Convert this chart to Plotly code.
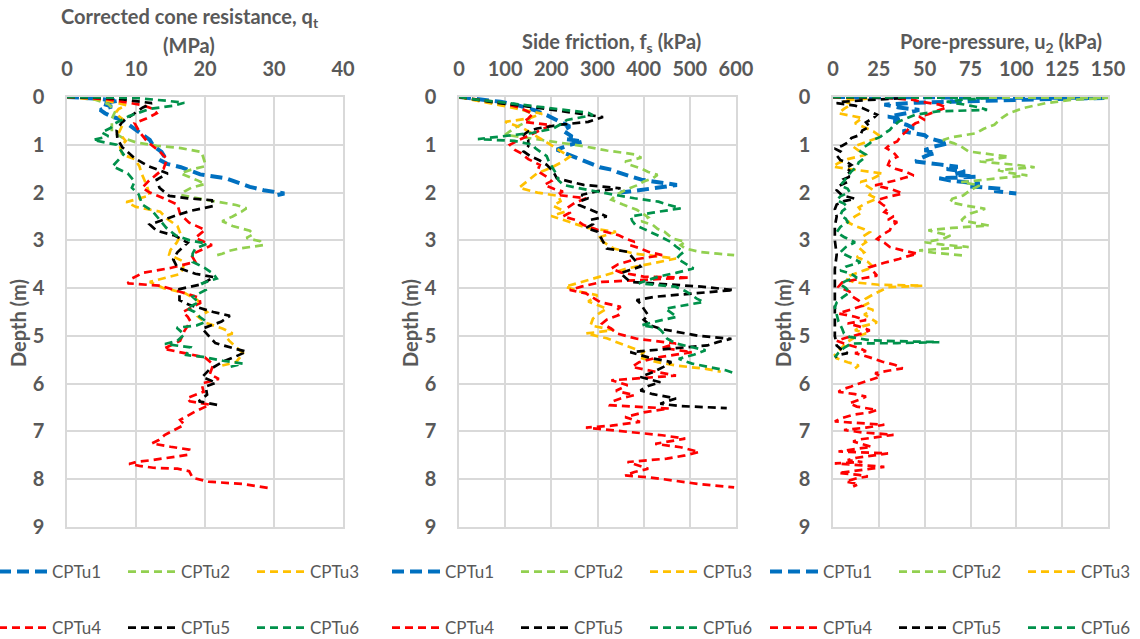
import plotly.graph_objects as go

W, H = 1140, 639

SERIES = ["CPTu1", "CPTu2", "CPTu3", "CPTu4", "CPTu5", "CPTu6"]
COLORS = ["#0070C0", "#92D050", "#FFC000", "#FF0000", "#000000", "#00914B"]

# ---------------- Corrected cone resistance qt (MPa): (depth m, value)
QT_1 = [(0.00, 0.0), (0.03, 4.0), (0.08, 7.5), (0.13, 5.0), (0.20, 6.5), (0.27, 4.8), (0.34, 5.5),
        (0.41, 6.5), (0.48, 8.0), (0.58, 9.0), (0.69, 10.0), (0.80, 11.0), (0.90, 12.0), (1.02, 12.5),
        (1.15, 13.7), (1.22, 14.0), (1.30, 13.2), (1.40, 14.5), (1.47, 16.5), (1.55, 18.0), (1.62, 19.3),
        (1.70, 23.0), (1.80, 25.0), (1.88, 26.5), (1.95, 28.5), (2.02, 31.5), (2.05, 30.5)]
QT_2 = [(0.00, 0.0), (0.05, 4.0), (0.15, 6.0), (0.30, 7.0), (0.45, 6.5), (0.60, 6.5), (0.72, 6.5),
        (0.85, 8.0), (0.95, 10.0), (1.02, 13.0), (1.07, 16.5), (1.15, 19.5), (1.27, 19.8), (1.38, 20.0),
        (1.45, 20.0), (1.52, 18.0), (1.60, 16.5), (1.68, 18.0), (1.75, 19.0), (1.82, 20.0), (1.90, 18.0),
        (1.98, 17.0), (2.05, 16.5), (2.15, 20.0), (2.26, 24.5), (2.33, 26.0), (2.40, 25.3), (2.50, 24.0),
        (2.60, 22.5), (2.70, 24.0), (2.80, 26.5), (2.87, 27.0), (2.95, 26.0), (3.02, 28.0), (3.10, 28.5),
        (3.17, 25.0), (3.22, 23.5), (3.28, 22.5), (3.32, 21.5)]
QT_3 = [(0.00, 0.0), (0.05, 5.0), (0.17, 8.6), (0.25, 7.5), (0.34, 7.0), (0.48, 8.2), (0.60, 8.0),
        (0.75, 7.5), (0.92, 8.5), (1.05, 7.7), (1.20, 8.0), (1.30, 9.8), (1.45, 10.5), (1.60, 10.8),
        (1.73, 11.2), (1.87, 11.6), (2.06, 12.0), (2.20, 8.6), (2.30, 10.0), (2.40, 13.5), (2.55, 14.5),
        (2.70, 16.0), (2.88, 16.5), (3.05, 15.9), (3.20, 15.0), (3.30, 14.8), (3.45, 17.0), (3.58, 16.8),
        (3.70, 16.5), (3.80, 14.0), (3.87, 12.0), (4.00, 14.0), (4.10, 17.0), (4.25, 18.9), (4.40, 19.5),
        (4.50, 20.3), (4.60, 19.0), (4.72, 20.0), (4.85, 22.6), (4.95, 24.0), (5.00, 23.0), (5.10, 23.5),
        (5.22, 24.5), (5.36, 25.5), (5.46, 25.0), (5.55, 24.5), (5.62, 22.5)]
QT_4 = [(0.00, 0.0), (0.05, 6.0), (0.17, 11.0), (0.25, 12.5), (0.34, 13.0), (0.45, 11.5), (0.55, 9.8),
        (0.73, 10.5), (0.93, 11.6), (1.15, 13.5), (1.30, 14.5), (1.50, 14.0), (1.62, 13.0), (1.75, 11.9),
        (1.90, 10.9), (2.00, 12.0), (2.12, 14.0), (2.25, 16.0), (2.45, 16.4), (2.63, 17.7), (2.78, 20.0),
        (2.95, 18.6), (3.10, 21.0), (3.30, 18.0), (3.45, 18.6), (3.58, 15.0), (3.68, 11.0), (3.80, 9.4),
        (3.90, 8.8), (3.95, 13.5), (4.08, 16.5), (4.20, 19.2), (4.31, 19.3), (4.40, 18.0), (4.50, 16.8),
        (4.60, 17.5), (4.70, 17.9), (4.90, 17.0), (5.10, 16.4), (5.27, 14.0), (5.37, 17.4), (5.45, 20.0),
        (5.60, 21.2), (5.80, 20.7), (5.90, 22.0), (6.00, 19.5), (6.17, 19.8), (6.30, 17.4), (6.37, 17.8),
        (6.44, 20.7), (6.58, 18.6), (6.76, 16.4), (6.86, 17.0), (7.07, 14.2), (7.18, 13.3), (7.25, 12.3),
        (7.32, 15.0), (7.38, 17.7), (7.49, 17.5), (7.55, 15.0), (7.60, 12.3), (7.64, 10.0), (7.68, 9.0),
        (7.72, 10.5), (7.76, 12.5), (7.78, 16.0), (7.83, 17.7), (7.97, 18.2), (8.05, 20.5), (8.10, 25.5),
        (8.19, 29.4)]
QT_5 = [(0.00, 0.0), (0.03, 7.0), (0.13, 12.3), (0.22, 11.0), (0.34, 9.8), (0.52, 8.0), (0.70, 7.2),
        (0.87, 7.3), (1.05, 8.0), (1.28, 9.8), (1.45, 11.8), (1.60, 14.6), (1.73, 13.0), (1.90, 13.4),
        (2.07, 14.8), (2.12, 17.5), (2.16, 21.0), (2.28, 21.3), (2.38, 18.0), (2.47, 16.0), (2.67, 12.0),
        (2.80, 13.0), (2.90, 15.6), (3.05, 17.5), (3.25, 16.0), (3.40, 15.4), (3.57, 16.0), (3.70, 18.6),
        (3.77, 21.3), (3.92, 19.5), (4.02, 16.3), (4.25, 16.3), (4.35, 17.7), (4.50, 21.2), (4.58, 23.6),
        (4.70, 22.4), (4.85, 19.6), (5.00, 20.5), (5.15, 21.5), (5.25, 23.9), (5.33, 26.0), (5.44, 24.3),
        (5.54, 22.6), (5.71, 20.6), (5.86, 19.6), (5.98, 21.6), (6.06, 20.1), (6.23, 20.3), (6.37, 19.1),
        (6.45, 22.0)]
QT_6 = [(0.00, 0.0), (0.02, 10.0), (0.08, 14.5), (0.12, 17.0), (0.18, 15.5), (0.25, 12.0), (0.40, 9.0),
        (0.55, 7.0), (0.65, 6.3), (0.74, 5.0), (0.82, 6.0), (0.90, 3.8), (1.00, 7.2), (1.20, 8.2),
        (1.45, 6.6), (1.60, 8.8), (1.77, 9.8), (1.90, 9.4), (2.04, 10.4), (2.25, 10.9), (2.39, 12.4),
        (2.57, 13.4), (2.74, 14.4), (2.90, 15.8), (3.00, 17.8), (3.07, 20.3), (3.17, 18.6), (3.28, 18.2),
        (3.45, 18.2), (3.58, 20.0), (3.70, 21.2), (3.80, 21.7), (3.90, 19.6), (4.04, 20.1), (4.18, 18.2),
        (4.30, 19.1), (4.42, 17.3), (4.50, 18.5), (4.60, 19.2), (4.70, 20.2), (4.78, 18.8), (4.83, 15.9),
        (4.97, 17.0), (5.10, 16.0), (5.17, 14.2), (5.24, 17.9), (5.40, 17.3), (5.44, 19.7), (5.52, 22.6),
        (5.58, 25.5), (5.65, 23.6)]

# ---------------- Side friction fs (kPa): (depth m, value)
FS_1 = [(0.00, 0), (0.04, 40), (0.10, 90), (0.18, 130), (0.28, 165), (0.38, 190), (0.48, 210), (0.55, 225),
        (0.62, 240), (0.70, 225), (0.77, 235), (0.83, 245), (0.88, 230), (0.93, 269), (1.00, 240),
        (1.10, 212), (1.18, 230), (1.25, 250), (1.32, 265), (1.41, 290), (1.47, 305), (1.52, 330),
        (1.58, 345), (1.63, 365), (1.68, 378), (1.73, 395), (1.79, 440), (1.84, 472), (1.88, 445),
        (1.92, 405), (1.97, 375), (2.00, 350)]
FS_2 = [(0.00, 0), (0.08, 50), (0.20, 120), (0.35, 160), (0.50, 150), (0.65, 120), (0.79, 100), (0.90, 180),
        (1.03, 270), (1.12, 320), (1.20, 380), (1.27, 395), (1.35, 360), (1.42, 370), (1.50, 395),
        (1.57, 410), (1.63, 430), (1.70, 420), (1.77, 400), (1.85, 385), (1.95, 360), (2.05, 340),
        (2.15, 330), (2.25, 355), (2.36, 385), (2.45, 400), (2.52, 410), (2.60, 395), (2.68, 420),
        (2.76, 430), (2.82, 445), (2.90, 455), (2.97, 465), (3.03, 490), (3.10, 480), (3.17, 490),
        (3.24, 520), (3.28, 560), (3.31, 596)]
FS_3 = [(0.00, 0), (0.08, 40), (0.20, 100), (0.35, 180), (0.45, 150), (0.52, 100), (0.66, 140), (0.80, 165),
        (0.95, 190), (1.10, 215), (1.25, 240), (1.35, 225), (1.48, 200), (1.60, 169), (1.75, 150),
        (1.90, 130), (2.00, 170), (2.07, 215), (2.18, 220), (2.28, 204), (2.40, 230), (2.49, 200),
        (2.60, 235), (2.74, 277), (2.82, 340), (2.95, 300), (3.08, 320), (3.17, 335), (3.28, 380),
        (3.38, 470), (3.48, 420), (3.59, 364), (3.72, 320), (3.85, 270), (3.97, 230), (4.07, 260),
        (4.15, 300), (4.28, 280), (4.43, 320), (4.55, 300), (4.64, 290), (4.78, 285), (4.88, 335),
        (4.95, 275), (5.05, 320), (5.20, 360), (5.34, 400), (5.45, 390), (5.55, 430), (5.62, 470),
        (5.69, 535), (5.75, 567)]
FS_4 = [(0.00, 0), (0.04, 30), (0.12, 90), (0.22, 130), (0.35, 160), (0.45, 150), (0.52, 140), (0.59, 200),
        (0.70, 175), (0.80, 150), (0.90, 130), (1.00, 110), (1.10, 120), (1.18, 135), (1.30, 150),
        (1.42, 175), (1.55, 170), (1.67, 190), (1.76, 200), (1.84, 185), (1.92, 205), (1.98, 225),
        (2.05, 212), (2.12, 275), (2.22, 250), (2.32, 235), (2.42, 240), (2.50, 225), (2.58, 255),
        (2.68, 270), (2.78, 300), (2.89, 345), (2.96, 360), (3.03, 380), (3.10, 370), (3.17, 393),
        (3.24, 410), (3.31, 440), (3.40, 380), (3.50, 345), (3.59, 330), (3.67, 350), (3.76, 400),
        (3.78, 500), (3.82, 420), (3.87, 310), (3.97, 265), (4.04, 240), (4.11, 275), (4.20, 290),
        (4.29, 305), (4.39, 350), (4.48, 340), (4.57, 345), (4.66, 320), (4.74, 310), (4.85, 330),
        (4.95, 342), (5.06, 385), (5.16, 470), (5.25, 440), (5.34, 505), (5.45, 430), (5.55, 390),
        (5.65, 375), (5.74, 420), (5.83, 470), (5.93, 330), (6.03, 365), (6.15, 340), (6.24, 380),
        (6.31, 350), (6.38, 330), (6.45, 327), (6.52, 455), (6.60, 400), (6.70, 360), (6.80, 392),
        (6.88, 330), (6.92, 275), (7.00, 360), (7.08, 440), (7.15, 490), (7.26, 425), (7.33, 480),
        (7.43, 520), (7.50, 490), (7.57, 450), (7.64, 365), (7.71, 390), (7.78, 410), (7.85, 380),
        (7.92, 360), (7.97, 420), (8.03, 470), (8.10, 520), (8.17, 596)]
FS_5 = [(0.00, 0), (0.05, 30), (0.12, 80), (0.20, 150), (0.30, 230), (0.36, 270), (0.42, 312), (0.48, 290),
        (0.52, 280), (0.58, 220), (0.66, 169), (0.72, 150), (0.79, 140), (0.90, 150), (1.03, 150),
        (1.14, 140), (1.24, 155), (1.33, 175), (1.42, 190), (1.50, 198), (1.56, 204), (1.63, 208),
        (1.70, 212), (1.77, 240), (1.84, 270), (1.91, 350), (1.97, 300), (2.05, 265), (2.12, 280),
        (2.19, 260), (2.26, 260), (2.38, 290), (2.50, 320), (2.57, 285), (2.66, 290), (2.74, 275),
        (2.82, 300), (2.90, 305), (3.00, 310), (3.08, 315), (3.17, 320), (3.24, 365), (3.35, 375),
        (3.45, 385), (3.55, 393), (3.62, 370), (3.69, 350), (3.78, 360), (3.87, 371), (3.92, 450),
        (3.97, 525), (4.04, 595), (4.11, 500), (4.18, 425), (4.25, 385), (4.34, 395), (4.43, 400),
        (4.50, 405), (4.57, 410), (4.66, 400), (4.78, 414), (4.86, 440), (4.95, 490), (5.00, 520),
        (5.06, 590), (5.13, 560), (5.20, 538), (5.27, 450), (5.34, 371), (5.45, 410), (5.55, 460),
        (5.65, 443), (5.76, 420), (5.86, 393), (5.97, 436), (6.05, 410), (6.14, 393), (6.22, 420),
        (6.31, 470), (6.37, 450), (6.42, 436), (6.47, 480), (6.51, 580)]
FS_6 = [(0.00, 0), (0.05, 35), (0.12, 100), (0.20, 170), (0.28, 240), (0.33, 280), (0.38, 290), (0.43, 260),
        (0.48, 234), (0.57, 220), (0.66, 204), (0.75, 160), (0.82, 100), (0.88, 41), (0.92, 120),
        (1.00, 160), (1.07, 165), (1.14, 175), (1.24, 190), (1.36, 195), (1.49, 204), (1.56, 208),
        (1.63, 212), (1.74, 215), (1.84, 226), (1.90, 255), (1.97, 290), (2.05, 338), (2.12, 380),
        (2.19, 432), (2.26, 455), (2.33, 480), (2.42, 420), (2.50, 372), (2.59, 375), (2.68, 382),
        (2.76, 400), (2.85, 422), (2.94, 440), (3.03, 458), (3.13, 470), (3.24, 487), (3.31, 478),
        (3.38, 472), (3.48, 490), (3.59, 508), (3.68, 470), (3.76, 432), (3.83, 410), (3.90, 390),
        (3.97, 469), (4.06, 490), (4.15, 505), (4.22, 515), (4.29, 530), (4.36, 490), (4.43, 447),
        (4.52, 460), (4.60, 472), (4.69, 430), (4.78, 395), (4.83, 430), (4.88, 437), (4.97, 445),
        (5.06, 451), (5.16, 470), (5.23, 500), (5.30, 534), (5.39, 510), (5.48, 476), (5.53, 490),
        (5.58, 505), (5.65, 540), (5.72, 578), (5.79, 598)]

# ---------------- Pore-pressure u2 (kPa): (depth m, value)
U2_1 = [(0.00, 0), (0.02, 148), (0.05, 110), (0.08, 80), (0.12, 45), (0.16, 28), (0.22, 36), (0.27, 47),
        (0.34, 40), (0.41, 30), (0.47, 38), (0.51, 33), (0.58, 40), (0.65, 44), (0.72, 38), (0.80, 50),
        (0.86, 52), (0.92, 58), (0.97, 63), (1.04, 55), (1.11, 50), (1.17, 56), (1.21, 52), (1.28, 48),
        (1.35, 45), (1.41, 58), (1.46, 68), (1.51, 62), (1.56, 72), (1.62, 66), (1.67, 78), (1.70, 58),
        (1.75, 64), (1.81, 80), (1.87, 74), (1.92, 92), (1.97, 88), (2.02, 100)]
U2_2 = [(0.00, 0), (0.02, 150), (0.06, 130), (0.13, 116), (0.23, 104), (0.34, 96), (0.44, 92), (0.58, 88),
        (0.67, 82), (0.76, 78), (0.84, 65), (0.90, 60), (0.97, 66), (1.04, 70), (1.14, 74), (1.20, 85),
        (1.25, 96), (1.30, 88), (1.35, 80), (1.42, 100), (1.47, 110), (1.53, 90), (1.58, 95), (1.64, 106),
        (1.70, 90), (1.78, 70), (1.85, 80), (1.95, 75), (2.06, 71), (2.13, 65), (2.20, 64), (2.27, 72),
        (2.34, 83), (2.44, 75), (2.51, 72), (2.58, 70), (2.64, 78), (2.69, 85), (2.74, 65), (2.79, 52),
        (2.85, 58), (2.90, 64), (2.97, 60), (3.04, 50), (3.09, 60), (3.14, 74), (3.21, 47), (3.26, 55),
        (3.32, 72)]
U2_3 = [(0.00, 0), (0.03, 20), (0.08, 5), (0.15, 10), (0.25, 6), (0.34, 3), (0.44, 16), (0.55, 12),
        (0.65, 18), (0.72, 22), (0.83, 26), (0.92, 20), (1.04, 11), (1.12, 14), (1.21, 18), (1.30, 8),
        (1.38, 3), (1.46, 0), (1.53, 15), (1.60, 27), (1.70, 22), (1.78, 15), (1.85, 18), (1.95, 22),
        (2.05, 20), (2.13, 24), (2.22, 18), (2.31, 14), (2.41, 16), (2.50, 12), (2.62, 8), (2.70, 12),
        (2.77, 17), (2.83, 20), (2.93, 16), (3.04, 18), (3.15, 14), (3.25, 17), (3.35, 13), (3.45, 19),
        (3.56, 22), (3.66, 15), (3.74, 9), (3.81, 7), (3.88, 12), (3.93, 25), (3.95, 49), (3.98, 30),
        (4.05, 26), (4.13, 22), (4.22, 18), (4.30, 20), (4.38, 16), (4.46, 22), (4.55, 17), (4.63, 20),
        (4.72, 24), (4.80, 16), (4.88, 12), (4.95, 18), (5.03, 12), (5.12, 8), (5.23, 5), (5.32, 3),
        (5.40, 1), (5.47, 2), (5.55, 8), (5.62, 14), (5.68, 12)]
U2_4 = [(0.00, 0), (0.02, 30), (0.06, 44), (0.10, 48), (0.16, 58), (0.22, 62), (0.30, 56), (0.36, 52),
        (0.41, 47), (0.48, 50), (0.55, 45), (0.63, 42), (0.72, 40), (0.82, 37), (0.93, 35), (1.00, 31),
        (1.07, 29), (1.16, 33), (1.25, 35), (1.33, 31), (1.42, 30), (1.50, 34), (1.57, 40), (1.64, 44),
        (1.70, 38), (1.74, 35), (1.80, 28), (1.85, 23), (1.93, 32), (2.02, 38), (2.09, 30), (2.16, 24),
        (2.25, 27), (2.33, 30), (2.41, 28), (2.50, 33), (2.57, 30), (2.62, 35), (2.70, 32), (2.79, 31),
        (2.88, 27), (2.97, 24), (3.05, 28), (3.14, 31), (3.21, 38), (3.28, 46), (3.34, 40), (3.39, 36),
        (3.47, 28), (3.56, 20), (3.65, 22), (3.74, 24), (3.81, 14), (3.88, 5), (3.97, 3), (4.07, 9),
        (4.16, 10), (4.26, 14), (4.37, 16), (4.45, 10), (4.53, 3), (4.60, 12), (4.67, 18), (4.74, 8),
        (4.80, 14), (4.88, 20), (4.95, 16), (5.03, 8), (5.10, 2), (5.16, 6), (5.25, 14), (5.32, 18),
        (5.36, 12), (5.45, 20), (5.54, 27), (5.61, 34), (5.68, 38), (5.73, 30), (5.78, 23), (5.85, 26),
        (5.92, 20), (6.00, 14), (6.06, 10), (6.12, 5), (6.17, 3), (6.22, 12), (6.27, 18), (6.34, 14),
        (6.41, 9), (6.48, 13), (6.55, 24), (6.60, 20), (6.65, 11), (6.72, 5), (6.79, 1), (6.83, 15),
        (6.86, 28), (6.92, 18), (6.97, 6), (7.02, 16), (7.07, 33), (7.12, 24), (7.17, 14), (7.21, 11),
        (7.27, 17), (7.32, 21), (7.37, 12), (7.42, 3), (7.46, 30), (7.50, 22), (7.55, 13), (7.60, 8),
        (7.64, 16), (7.67, 1), (7.70, 12), (7.74, 28), (7.79, 19), (7.84, 9), (7.87, 3), (7.91, 14),
        (7.94, 19), (7.99, 12), (8.05, 7), (8.10, 14), (8.15, 11)]
U2_5 = [(0.00, 0), (0.02, 40), (0.06, 20), (0.10, 5), (0.13, 2), (0.18, 12), (0.23, 16), (0.30, 20),
        (0.37, 24), (0.44, 22), (0.53, 18), (0.62, 20), (0.70, 16), (0.79, 15), (0.86, 10), (0.93, 9),
        (1.02, 5), (1.08, 1), (1.14, 4), (1.22, 2), (1.32, 4), (1.37, 8), (1.42, 10), (1.49, 7),
        (1.56, 10), (1.62, 7), (1.67, 9), (1.72, 6), (1.78, 8), (1.86, 3), (1.95, 2), (2.06, 5),
        (2.13, 12), (2.18, 6), (2.25, 2), (2.35, 1), (2.50, 2), (2.70, 1), (3.00, 1), (3.30, 2),
        (3.60, 1), (4.00, 1), (4.50, 1), (5.00, 1), (5.20, 2), (5.30, 5), (5.36, 8), (5.40, 3),
        (5.45, 1)]
U2_6 = [(0.00, 0), (0.02, 85), (0.06, 70), (0.10, 62), (0.16, 72), (0.22, 80), (0.27, 84), (0.30, 57),
        (0.37, 45), (0.44, 40), (0.51, 36), (0.60, 33), (0.69, 31), (0.76, 28), (0.83, 26), (0.90, 22),
        (0.97, 20), (1.05, 17), (1.14, 15), (1.21, 18), (1.28, 17), (1.37, 14), (1.46, 13), (1.56, 10),
        (1.67, 8), (1.76, 6), (1.85, 4), (1.92, 8), (1.99, 9), (2.08, 4), (2.16, 2), (2.23, 6),
        (2.30, 8), (2.39, 5), (2.48, 4), (2.55, 7), (2.62, 8), (2.72, 4), (2.83, 2), (2.93, 6),
        (3.04, 12), (3.14, 7), (3.25, 4), (3.35, 9), (3.46, 15), (3.55, 7), (3.63, 4), (3.70, 10),
        (3.78, 13), (3.85, 7), (3.92, 4), (4.00, 7), (4.09, 9), (4.20, 5), (4.30, 2), (4.40, 1),
        (4.55, 2), (4.70, 3), (4.85, 5), (4.95, 6), (5.02, 9), (5.09, 20), (5.11, 35), (5.13, 58),
        (5.15, 35), (5.16, 10), (5.25, 6), (5.35, 3), (5.45, 1)]

PANELS = [
    {"data": [QT_1, QT_2, QT_3, QT_4, QT_5, QT_6], "range": [0, 40], "dtick": 10},
    {"data": [FS_1, FS_2, FS_3, FS_4, FS_5, FS_6], "range": [0, 600], "dtick": 100},
    {"data": [U2_1, U2_2, U2_3, U2_4, U2_5, U2_6], "range": [0, 150], "dtick": 25},
]
DEPTH_RANGE = [9, 0]
DEPTH_TICKS = list(range(0, 10))

# ---------------- layout helpers (pixel -> paper)
def fx(px):
    return px / W

def fy(py):
    return 1 - py / H

PLOT_X = [(67, 343), (459, 736), (833, 1108)]
PLOT_Y = (97, 527)
GREY = "#595959"
GRID = "#D9D9D9"
FONT = "Lato, 'Open Sans', sans-serif"

fig = go.Figure()

for p, panel in enumerate(PANELS):
    ax = "" if p == 0 else str(p + 1)
    for s, series in enumerate(panel["data"]):
        depth = [pt[0] for pt in series]
        val = [pt[1] for pt in series]
        lg_idx = p * 2 + (0 if s < 3 else 1) + 1
        lg = "legend" if lg_idx == 1 else f"legend{lg_idx}"
        if s == 0:
            line = dict(color=COLORS[s], width=4, dash="12px,6px")
        else:
            line = dict(color=COLORS[s], width=2.7, dash="8px,5px")
        fig.add_trace(go.Scatter(
            x=val, y=depth, mode="lines", name=SERIES[s], line=line,
            xaxis="x" + ax, yaxis="y" + ax, legend=lg, hoverinfo="skip",
        ))

tickfont = dict(family=FONT, size=20, color=GREY, weight="bold")
layout = dict(
    width=W, height=H, margin=dict(l=0, r=0, t=0, b=0, autoexpand=False),
    paper_bgcolor="white", plot_bgcolor="white", showlegend=True,
)
for p, panel in enumerate(PANELS):
    ax = "" if p == 0 else str(p + 1)
    x0, x1 = PLOT_X[p]
    layout["xaxis" + ax] = dict(
        domain=[fx(x0), fx(x1)], anchor="y" + ax, side="top",
        range=panel["range"], dtick=panel["dtick"], tick0=0,
        showgrid=True, gridcolor=GRID, gridwidth=1.5, zeroline=False,
        showline=True, linecolor=GRID, linewidth=1.5, mirror=True,
        ticks="", tickfont=tickfont, ticklabelstandoff=11, fixedrange=True,
    )
    layout["yaxis" + ax] = dict(
        domain=[fy(PLOT_Y[1]), fy(PLOT_Y[0])], anchor="x" + ax,
        range=DEPTH_RANGE, tickvals=DEPTH_TICKS,
        showgrid=True, gridcolor=GRID, gridwidth=1.5, zeroline=False,
        showline=True, linecolor=GRID, linewidth=1.5, mirror=True,
        ticks="", tickfont=tickfont, ticklabelstandoff=17, fixedrange=True,
    )

# legends: two rows under each panel
LEG_X = [-6, 387, 765]
LEG_Y = [572, 628]
for p in range(3):
    for r in range(2):
        idx = p * 2 + r + 1
        key = "legend" if idx == 1 else f"legend{idx}"
        layout[key] = dict(
            orientation="h", x=fx(LEG_X[p]), y=fy(LEG_Y[r]),
            xanchor="left", yanchor="middle",
            font=dict(family=FONT, size=17, color=GREY),
            itemwidth=48, entrywidth=66, entrywidthmode="pixels",
            bgcolor="rgba(255,255,255,0)", borderwidth=0,
            itemclick=False, itemdoubleclick=False,
        )

fig.update_layout(**layout)

titlefont = dict(family=FONT, size=20, color=GREY, weight="bold")
TITLES = [
    ("Corrected cone resistance, q<sub>t</sub>", 190, 17),
    ("(MPa)", 189, 45),
    ("Side friction, f<sub>s</sub> (kPa)", 611, 42),
    ("Pore-pressure, u<sub>2</sub> (kPa)", 1001, 42),
]
for text, x, y in TITLES:
    fig.add_annotation(text=text, x=fx(x), y=fy(y), xref="paper", yref="paper",
                       xanchor="center", yanchor="middle", showarrow=False, font=titlefont)
for x in [18, 410, 783]:
    fig.add_annotation(text="Depth (m)", x=fx(x), y=fy(323), xref="paper", yref="paper",
                       xanchor="center", yanchor="middle", showarrow=False, textangle=-90,
                       font=titlefont)

fig.write_html("out.html")
